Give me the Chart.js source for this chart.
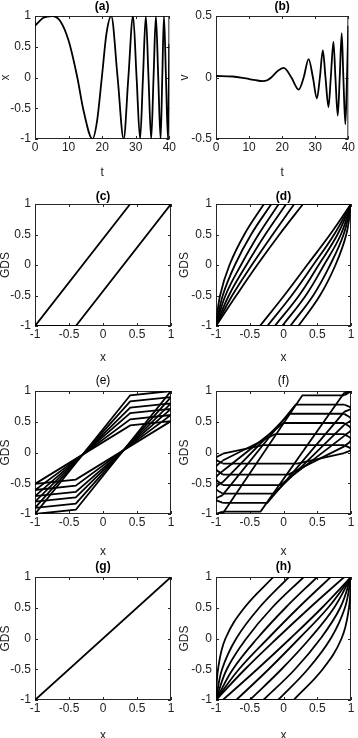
<!DOCTYPE html>
<html>
<head>
<meta charset="utf-8">
<script src="https://cdn.jsdelivr.net/npm/chart.js@4.4.1/dist/chart.umd.min.js"></script>
<style>
  html, body { margin: 0; padding: 0; background: #fff; }
  body { width: 358px; height: 738px; position: relative; overflow: hidden; }
  canvas { position: absolute; }
</style>
</head>
<body>
<canvas id="pa" width="179" height="190"></canvas>
<canvas id="pb" width="179" height="190"></canvas>
<canvas id="pc" width="179" height="190"></canvas>
<canvas id="pd" width="179" height="190"></canvas>
<canvas id="pe" width="179" height="190"></canvas>
<canvas id="pf" width="179" height="190"></canvas>
<canvas id="pg" width="179" height="190"></canvas>
<canvas id="ph" width="179" height="190"></canvas>
<script>
// (a) displacement x(t)
const aT = [0, 2.5, 5.1, 7.5, 10, 12.6, 14.5, 17.1, 18.5, 19.9, 21.3, 22.7, 24.6, 26.4, 27.8, 29.2, 30.25, 31.3,
  32.15, 33.0, 33.8, 34.6, 35.3, 36.0, 36.7, 37.4, 37.9, 38.4, 39.0, 39.6, 40]
const aX = [0.84, 0.97, 1, 0.92, 0.6, 0, -0.55, -1, -0.7, 0, 0.72, 1, 0, -1, 0, 1, 0, -1,
  0, 1, 0, -1, 0, 1, 0, -1, 0, 1, 0, -1, 0.55]

// (b) velocity v(t)
const bT = [0, 5, 9, 12, 14, 15.5, 16.7, 18.5, 20.5, 22.8, 25.0, 26.5, 28.0, 29.3, 30.5, 31.4, 32.3, 33.1,
  34.0, 34.7, 35.5, 36.1, 36.8, 37.4, 38.0, 38.5, 39.1, 39.6, 40]
const bV = [0.012, 0.008, -0.008, -0.022, -0.029, -0.022, 0, 0.05, 0.079, 0, -0.098, 0, 0.15, 0, -0.17, 0, 0.22, 0,
  -0.24, 0, 0.29, 0, -0.31, 0, 0.36, 0, -0.38, 0, 0.42]

// (c) single loop
const cX = [-1, 0.4, 1, -0.4, -1]
const cY = [-1, 1, 1, -1, -1]

// GDS levels where branch x positions were read
const levels = [-1, -0.5, 0, 0.5, 1]

// (d) upper / lower branches, x read at each level
const dUpX = [
  [-1, -0.94, -0.80, -0.58, -0.29],
  [-1, -0.90, -0.72, -0.48, -0.18],
  [-1, -0.86, -0.63, -0.37, -0.07],
  [-1, -0.81, -0.55, -0.27, 0.04],
  [-1, -0.76, -0.47, -0.16, 0.16],
  [-1, -0.70, -0.39, -0.06, 0.29]
]
const dLoX = [
  [0.22, 0.54, 0.77, 0.93, 1],
  [0.10, 0.44, 0.69, 0.89, 1],
  [-0.02, 0.33, 0.60, 0.85, 1],
  [-0.13, 0.23, 0.52, 0.80, 1],
  [-0.24, 0.12, 0.44, 0.75, 1],
  [-0.35, 0.01, 0.35, 0.69, 1]
]

// (e) flat level at the corner and level at the edge
const eFlat = [0.93, 0.83, 0.73, 0.64, 0.54, 0.44]
const eEdge = [1.0, 0.90, 0.80, 0.71, 0.61, 0.51]
const eCorner = 0.40

// (f) loops with rounded ends
const fUp = [0.93, 0.78, 0.63, 0.48, 0.30, 0.12]
const fDown = [-0.96, -0.82, -0.67, -0.53, -0.36, -0.18]
const fUpCorner = [0.28, 0.18, 0.09, 0.0, -0.12, -0.30]
const fDownCorner = [-0.34, -0.24, -0.14, -0.05, 0.07, 0.20]
const fRiseEnd = [0.97, 0.66, 0.45, 0.27, 0.10, -0.01]
const fRiseTip = [1.0, 0.72, 0.54, 0.38, 0.21, 0.05]
const fFallEnd = [-0.99, -0.69, -0.48, -0.30, -0.13, -0.02]
const fFallTip = [-1.0, -0.76, -0.58, -0.42, -0.25, -0.10]

// (g) linear
const gX = [-1, 1]
const gY = [-1, 1]

// (h) lens-shaped branches
const hUpX = [
  [-1, -0.97, -0.86, -0.58, -0.15],
  [-1, -0.91, -0.70, -0.36, 0.08],
  [-1, -0.84, -0.55, -0.17, 0.30],
  [-1, -0.75, -0.39, 0.03, 0.50],
  [-1, -0.66, -0.23, 0.22, 0.70],
  [-1, -0.57, -0.10, 0.39, 0.90]
]
const hLoX = [
  [0.15, 0.58, 0.86, 0.97, 1],
  [-0.08, 0.36, 0.70, 0.91, 1],
  [-0.30, 0.17, 0.55, 0.84, 1],
  [-0.50, -0.03, 0.39, 0.75, 1],
  [-0.70, -0.22, 0.23, 0.66, 1],
  [-0.90, -0.39, 0.10, 0.57, 1]
]

const unitTicks = [-1, -0.5, 0, 0.5, 1]
const timeTicks = [0, 10, 20, 30, 40]
const velTicks = [-0.5, 0, 0.5]

// layout of the 2x4 grid (page pixels)
const CW = 179, CH = 190
const rowTop = [0, 185, 370, 548]
const plotTop = [16, 204, 391, 577]
const plotBottom = [139, 326, 514, 700]
const xTitleY = [172.5, 358, 551.5, 735.5]
const titleY = [7, 196.5, 380.5, 566.5]
const colLeft = [0, 179]
const plotLeft = [35, 216]
const plotRight = [171, 351]

const NARROW = "'Liberation Sans Narrow', 'Arial Narrow', 'Liberation Sans', Arial, sans-serif"
const REGULAR = "'Liberation Sans', Arial, sans-serif"
const INK = '#222'

function pts(xs, ys) {
  return xs.map((x, i) => ({ x, y: ys[i] }))
}

function line(data, extra) {
  return Object.assign({
    data,
    borderColor: '#000',
    borderWidth: 1.8,
    pointRadius: 0,
    showLine: true,
    fill: false,
    tension: 0
  }, extra || {})
}

// box round the plot with inward ticks on all four sides
const frame = {
  id: 'frame',
  beforeDatasetsDraw(chart) {
    const { ctx, chartArea: a, scales: { x, y } } = chart
    ctx.save()
    ctx.strokeStyle = '#262626'
    ctx.lineWidth = 1
    ctx.strokeRect(a.left + 0.5, a.top + 0.5, a.right - a.left - 1, a.bottom - a.top - 1)
    ctx.beginPath()
    x.ticks.forEach(t => {
      const px = Math.round(x.getPixelForValue(t.value)) + 0.5
      ctx.moveTo(px, a.bottom); ctx.lineTo(px, a.bottom - 3)
      ctx.moveTo(px, a.top); ctx.lineTo(px, a.top + 3)
    })
    y.ticks.forEach(t => {
      const py = Math.round(y.getPixelForValue(t.value)) + 0.5
      ctx.moveTo(a.left, py); ctx.lineTo(a.left + 3, py)
      ctx.moveTo(a.right, py); ctx.lineTo(a.right - 3, py)
    })
    ctx.stroke()
    ctx.restore()
  }
}

function panel(id, col, row, p) {
  const el = document.getElementById(id)
  el.style.left = colLeft[col] + 'px'
  el.style.top = rowTop[row] + 'px'
  const yAxisWidth = plotLeft[col] - colLeft[col]
  const xAxisHeight = rowTop[row] + CH - plotBottom[row]

  return new Chart(el.getContext('2d'), {
    type: 'scatter',
    data: { datasets: p.datasets },
    plugins: [frame],
    options: {
      responsive: false,
      animation: false,
      events: [],
      layout: { padding: { left: 0, top: 0, bottom: 0, right: colLeft[col] + CW - plotRight[col] } },
      plugins: {
        legend: { display: false },
        tooltip: { enabled: false },
        title: {
          display: true,
          text: p.title,
          fullSize: false,
          color: '#000',
          font: { family: NARROW, size: 12, weight: p.bold === false ? 'normal' : 'bold', lineHeight: 1 },
          padding: { top: titleY[row] - rowTop[row] - 6, bottom: plotTop[row] - titleY[row] - 6 }
        }
      },
      scales: {
        x: {
          type: 'linear',
          min: p.xTicks[0],
          max: p.xTicks[p.xTicks.length - 1],
          afterBuildTicks: s => { s.ticks = p.xTicks.map(v => ({ value: v })) },
          afterFit: s => { s.height = xAxisHeight },
          grid: { display: false, drawTicks: false },
          border: { display: false },
          ticks: {
            autoSkip: false, maxRotation: 0, padding: 3, color: INK,
            font: { family: NARROW, size: 12, lineHeight: 1 },
            callback: v => String(v)
          },
          title: {
            display: true, text: p.xLabel, color: INK,
            font: { family: NARROW, size: 12, lineHeight: 1 },
            padding: { top: 0, bottom: rowTop[row] + CH - xTitleY[row] - 6 }
          }
        },
        y: {
          type: 'linear',
          min: p.yTicks[0],
          max: p.yTicks[p.yTicks.length - 1],
          afterBuildTicks: s => { s.ticks = p.yTicks.map(v => ({ value: v })) },
          afterFit: s => { s.width = yAxisWidth },
          grid: { display: false, drawTicks: false },
          border: { display: false },
          ticks: {
            autoSkip: false, padding: 4, color: INK,
            font: { family: NARROW, size: 12, lineHeight: 1 },
            callback: v => String(v)
          },
          title: {
            display: true, text: p.yLabel, color: INK,
            font: { family: REGULAR, size: 12, lineHeight: 1 },
            padding: { top: 0, bottom: 0 }
          }
        }
      }
    }
  })
}

// branch families drawn as smooth curves, with the saturated flats at +-1
function branchSets(upX, loX) {
  const sets = []
  upX.forEach(xs => sets.push(line(pts(xs, levels), { tension: 0.4 })))
  loX.forEach(xs => sets.push(line(pts(xs, levels), { tension: 0.4 })))
  upX.forEach(xs => sets.push(line([{ x: xs[4], y: 1 }, { x: 1, y: 1 }])))
  loX.forEach(xs => sets.push(line([{ x: -1, y: -1 }, { x: xs[0], y: -1 }])))
  return sets
}

const eSets = eFlat.map((lv, i) => line([
  { x: -1, y: -eEdge[i] }, { x: -eCorner, y: -lv }, { x: 1, y: eEdge[i] }, { x: eCorner, y: lv }, { x: -1, y: -eEdge[i] }
]))

const fSets = []
fUp.forEach((up, i) => {
  fSets.push(line([{ x: -0.9, y: fDown[i] }, { x: fDownCorner[i], y: fDown[i] }, { x: 0.9, y: fRiseEnd[i] }]))
  fSets.push(line([{ x: 0.9, y: fRiseEnd[i] }, { x: 1, y: fRiseTip[i] }, { x: 0.9, y: up }], { tension: 0.5 }))
  fSets.push(line([{ x: 0.9, y: up }, { x: fUpCorner[i], y: up }, { x: -0.9, y: fFallEnd[i] }]))
  fSets.push(line([{ x: -0.9, y: fFallEnd[i] }, { x: -1, y: fFallTip[i] }, { x: -0.9, y: fDown[i] }], { tension: 0.5 }))
})

panel('pa', 0, 0, { title: '(a)', xLabel: 't', yLabel: 'x', xTicks: timeTicks, yTicks: unitTicks,
  datasets: [line(pts(aT, aX), { cubicInterpolationMode: 'monotone' })] })
panel('pb', 1, 0, { title: '(b)', xLabel: 't', yLabel: 'v', xTicks: timeTicks, yTicks: velTicks,
  datasets: [line(pts(bT, bV), { cubicInterpolationMode: 'monotone' })] })
panel('pc', 0, 1, { title: '(c)', xLabel: 'x', yLabel: 'GDS', xTicks: unitTicks, yTicks: unitTicks,
  datasets: [line(pts(cX, cY))] })
panel('pd', 1, 1, { title: '(d)', xLabel: 'x', yLabel: 'GDS', xTicks: unitTicks, yTicks: unitTicks,
  datasets: branchSets(dUpX, dLoX) })
panel('pe', 0, 2, { title: '(e)', bold: false, xLabel: 'x', yLabel: 'GDS', xTicks: unitTicks, yTicks: unitTicks,
  datasets: eSets })
panel('pf', 1, 2, { title: '(f)', bold: false, xLabel: 'x', yLabel: 'GDS', xTicks: unitTicks, yTicks: unitTicks,
  datasets: fSets })
panel('pg', 0, 3, { title: '(g)', xLabel: 'x', yLabel: 'GDS', xTicks: unitTicks, yTicks: unitTicks,
  datasets: [line(pts(gX, gY))] })
panel('ph', 1, 3, { title: '(h)', xLabel: 'x', yLabel: 'GDS', xTicks: unitTicks, yTicks: unitTicks,
  datasets: branchSets(hUpX, hLoX) })
</script>
</body>
</html>
